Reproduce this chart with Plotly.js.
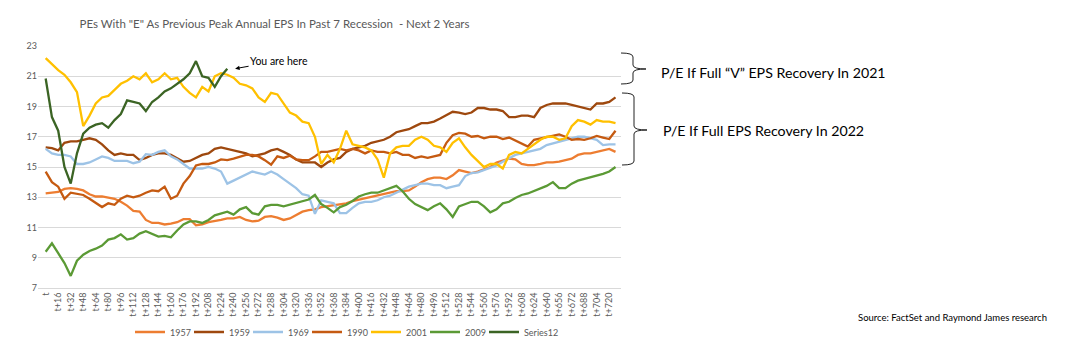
<!DOCTYPE html>
<html><head><meta charset="utf-8">
<script src="https://cdn.plot.ly/plotly-3.0.1.min.js"></script>
<style>html,body{margin:0;padding:0;background:#fff}#chart{width:1066px;height:341px}</style>
</head><body><div id="chart"></div>
<script>
// ---- data (values read every 8 trading days: t, t+8, t+16, ...) ----
const step = 8;
const tickOffsets = [];
for (let t = 0; t <= 720; t += 16) tickOffsets.push(t);
const tickLabels = tickOffsets.map(t => t === 0 ? 't' : 't+' + t);

const seriesNames = ['1957', '1959', '1969', '1990', '2001', '2009', 'Series12'];

const pe1957 = [13.25,13.3,13.35,13.55,13.6,13.55,13.45,13.2,13.05,13.05,
  13.0,12.9,12.7,12.45,12.1,12.05,11.5,11.3,11.3,11.2,
  11.25,11.35,11.55,11.55,11.15,11.2,11.35,11.45,11.5,11.6,
  11.6,11.7,11.5,11.4,11.45,11.7,11.75,11.65,11.5,11.6,
  11.85,12.05,12.15,12.2,12.35,12.4,12.45,12.55,12.6,12.75,
  12.85,12.95,13.05,13.15,13.25,13.35,13.4,13.4,13.45,13.7,
  14.0,14.2,14.3,14.3,14.2,14.45,14.8,14.7,14.6,14.7,
  14.85,15.0,15.3,15.45,15.55,15.5,15.2,15.13,15.13,15.2,
  15.3,15.3,15.35,15.45,15.55,15.8,15.9,15.9,16.0,16.1,
  16.2,16.0];

const pe1959 = [16.3,16.25,16.1,16.6,16.7,16.7,16.8,16.9,16.8,16.5,
  16.1,15.8,15.9,15.8,15.8,15.46,15.6,15.8,15.9,15.9,
  15.8,15.6,15.35,15.4,15.6,15.8,15.9,16.2,16.3,16.2,
  16.1,16.0,15.9,15.7,15.8,15.9,16.1,16.2,16.0,15.8,
  15.5,15.3,15.3,15.3,15.0,15.3,15.5,15.6,16.0,16.2,
  16.3,16.4,16.6,16.7,16.8,17.0,17.3,17.4,17.5,17.7,
  17.9,17.9,18.0,18.2,18.4,18.65,18.6,18.5,18.6,18.9,
  18.9,18.8,18.8,18.7,18.3,18.3,18.4,18.4,18.3,18.9,
  19.1,19.2,19.2,19.2,19.1,19.0,18.9,18.8,19.2,19.2,
  19.3,19.6];

const pe1969 = [16.2,15.9,15.8,15.8,15.7,15.2,15.2,15.3,15.5,15.7,
  15.6,15.4,15.4,15.4,15.25,15.35,15.85,15.8,16.0,16.1,
  15.7,15.5,15.2,14.9,14.9,14.9,15.0,14.9,14.7,13.9,
  14.1,14.3,14.5,14.7,14.6,14.5,14.7,14.5,14.2,13.9,
  13.6,13.2,13.1,11.9,12.8,12.7,12.6,11.95,11.95,12.3,
  12.6,12.7,12.7,12.8,13.0,13.1,13.3,13.5,13.7,13.8,
  13.9,13.9,13.8,13.8,13.6,13.7,13.8,14.4,14.6,14.65,
  14.8,14.95,15.1,15.35,15.6,15.8,15.9,16.0,16.1,16.2,
  16.45,16.55,16.65,16.75,16.9,17.0,17.0,16.9,16.8,16.45,
  16.5,16.5];

const pe1990 = [14.7,14.0,13.7,12.9,13.3,13.2,13.15,12.9,12.6,12.35,
  12.6,12.5,12.9,13.1,13.0,13.1,13.3,13.45,13.4,13.7,
  12.9,13.1,13.9,14.4,15.1,15.2,15.2,15.3,15.5,15.45,
  15.55,15.7,15.8,15.8,15.7,15.45,15.15,15.7,15.6,15.75,
  15.5,15.45,15.45,15.7,16.0,16.0,16.1,16.2,16.1,16.2,
  16.1,15.9,16.1,16.0,16.0,15.9,16.0,15.8,15.8,15.6,
  15.7,15.6,15.7,15.8,16.6,17.1,17.25,17.2,17.0,17.05,
  16.9,17.0,17.0,16.85,16.95,16.75,16.6,16.35,16.8,16.9,
  17.0,17.1,17.15,17.0,16.8,16.85,16.8,16.9,17.05,16.95,
  16.85,17.4];

const pe2001 = [22.2,21.8,21.4,21.1,20.6,19.95,17.7,18.4,19.2,19.6,
  19.7,20.1,20.5,20.7,21.0,20.8,21.2,20.6,20.8,21.2,
  20.8,20.9,20.3,19.9,19.6,20.3,20.0,21.0,21.2,21.1,
  20.9,20.5,20.4,20.2,19.6,19.3,19.9,19.8,19.2,18.6,
  18.4,18.0,17.9,17.0,15.2,15.8,15.3,16.2,17.4,16.5,
  16.4,16.3,16.1,15.5,14.3,15.9,16.3,16.4,16.4,16.8,
  17.0,16.8,16.4,16.3,16.0,16.6,16.9,16.3,15.8,15.4,
  15.0,15.2,15.2,14.9,15.8,16.0,15.9,16.2,16.5,16.8,
  17.0,17.0,16.8,16.9,17.7,18.1,18.0,17.8,18.1,18.0,
  18.0,17.9];

const pe2009 = [9.4,9.95,9.3,8.65,7.8,8.8,9.2,9.45,9.6,9.8,
  10.2,10.3,10.55,10.2,10.3,10.6,10.75,10.55,10.4,10.45,
  10.35,10.8,11.2,11.4,11.4,11.3,11.5,11.8,11.95,12.05,
  11.85,12.2,12.35,11.95,11.85,12.4,12.5,12.5,12.4,12.5,
  12.6,12.75,12.85,13.15,12.55,12.3,12.0,12.35,12.5,12.75,
  13.05,13.2,13.3,13.3,13.45,13.6,13.75,13.4,12.9,12.55,
  12.35,12.15,12.4,12.6,12.2,11.7,12.4,12.55,12.7,12.7,
  12.4,12.0,12.2,12.6,12.7,12.95,13.15,13.25,13.4,13.6,
  13.75,14.0,13.6,13.6,13.9,14.1,14.2,14.3,14.45,14.55,
  14.7,15.0];

const peSeries12 = [20.85,18.3,17.4,15.0,13.9,15.9,17.2,17.6,17.8,17.9,
  17.6,18.1,18.5,19.4,19.3,19.2,18.7,19.3,19.6,20.0,
  20.2,20.5,20.8,21.2,22.0,21.0,20.9,20.3,21.0,21.5];

const yTicks = [7, 9, 11, 13, 15, 17, 19, 21, 23];

// ---- styling ----
const seriesValues = [pe1957, pe1959, pe1969, pe1990, pe2001, pe2009, peSeries12];
const seriesColors = ['#ED7D31', '#9E480E', '#9DC3E6', '#C55A11', '#FFC000', '#5B9A35', '#3B6424'];

const traces = seriesValues.map((vals, k) => ({
  type: 'scatter', mode: 'lines', name: seriesNames[k],
  x: vals.map((_, i) => i * step), y: vals,
  line: { color: seriesColors[k], width: 2.3 },
  hoverinfo: 'skip'
}));
// blank legend spacer (no visible mark) so the last legend label is not clipped
traces.push({ type: 'scatter', mode: 'lines', name: '\u00A0', x: [null], y: [null],
  showlegend: true, line: { color: 'rgba(0,0,0,0)', width: 0.1 }, hoverinfo: 'skip' });

const W = 1066, H = 341;
const M = { l: 38, r: 445, t: 46, b: 53, autoexpand: false };
const plotW = W - M.l - M.r, plotH = H - M.t - M.b;
const px2x = p => (p - M.l) / plotW;
const py2y = p => (M.t + plotH - p) / plotH;

function brace(x0, xv, xtip, yT, yM, yB, r) {
  const P = (x, y) => px2x(x).toFixed(5) + ',' + py2y(y).toFixed(5);
  return 'M' + P(x0, yT) + ' Q' + P(xv, yT) + ' ' + P(xv, yT + r) +
    ' L' + P(xv, yM - r) + ' Q' + P(xv, yM) + ' ' + P(xtip, yM) +
    ' Q' + P(xv, yM) + ' ' + P(xv, yM + r) +
    ' L' + P(xv, yB - r) + ' Q' + P(xv, yB) + ' ' + P(x0, yB);
}

const lastIdx = peSeries12.length - 1;

const layout = {
  width: W, height: H, margin: M,
  paper_bgcolor: '#fff', plot_bgcolor: '#fff',
  font: { family: 'Lato, sans-serif', color: '#595959' },
  title: {
    text: 'PEs With "E" As Previous Peak Annual EPS In Past 7 Recession  - Next 2 Years',
    xref: 'container', yref: 'container', x: 274.5 / W, xanchor: 'center',
    y: 1 - 24 / H, yanchor: 'middle', font: { size: 11.5, color: '#595959' }
  },
  xaxis: {
    range: [-9.8, 735], tickmode: 'array', tickvals: tickOffsets, ticktext: tickLabels,
    tickangle: -90, tickfont: { size: 9, color: '#595959' }, automargin: false,
    showgrid: false, zeroline: false, showline: true, linecolor: '#D9D9D9', linewidth: 1, ticks: ''
  },
  yaxis: {
    range: [7, 23], tickmode: 'array', tickvals: yTicks, automargin: false,
    tickfont: { size: 9, color: '#595959' }, gridcolor: '#D9D9D9', gridwidth: 1,
    zeroline: false, showline: false, ticks: ''
  },
  showlegend: true,
  legend: {
    orientation: 'h', x: px2x(130), xanchor: 'left', y: py2y(332), yanchor: 'middle',
    font: { size: 9, color: '#595959' }, entrywidth: 14, entrywidthmode: 'pixels',
    itemwidth: 30, traceorder: 'normal', bgcolor: 'rgba(0,0,0,0)'
  },
  annotations: [
    {
      x: lastIdx * step + 10, y: peSeries12[lastIdx], xref: 'x', yref: 'y',
      text: 'You are here', showarrow: true, arrowhead: 2, arrowsize: 0.9, arrowwidth: 1,
      arrowcolor: '#000', ax: 44, ay: -8, font: { size: 10.5, color: '#000' }
    },
    {
      x: px2x(659), y: py2y(72), xref: 'paper', yref: 'paper', xanchor: 'left', yanchor: 'middle',
      text: 'P/E If Full \u201CV\u201D EPS Recovery In 2021', showarrow: false,
      font: { size: 14.2, color: '#000' }
    },
    {
      x: px2x(661), y: py2y(130), xref: 'paper', yref: 'paper', xanchor: 'left', yanchor: 'middle',
      text: 'P/E If Full EPS Recovery In 2022', showarrow: false,
      font: { size: 14.2, color: '#000' }
    },
    {
      x: px2x(856), y: py2y(317), xref: 'paper', yref: 'paper', xanchor: 'left', yanchor: 'middle',
      text: 'Source: FactSet and Raymond James research', showarrow: false,
      font: { size: 9.5, color: '#000' }
    }
  ],
  shapes: [
    { type: 'path', xref: 'paper', yref: 'paper', path: brace(621, 633, 646, 53, 69, 84, 4),
      line: { color: '#222', width: 1 } },
    { type: 'path', xref: 'paper', yref: 'paper', path: brace(622, 634, 647, 93, 130, 165, 4),
      line: { color: '#222', width: 1 } }
  ]
};

Plotly.newPlot('chart', traces, layout, { displayModeBar: false, staticPlot: true });
</script>
</body></html>
